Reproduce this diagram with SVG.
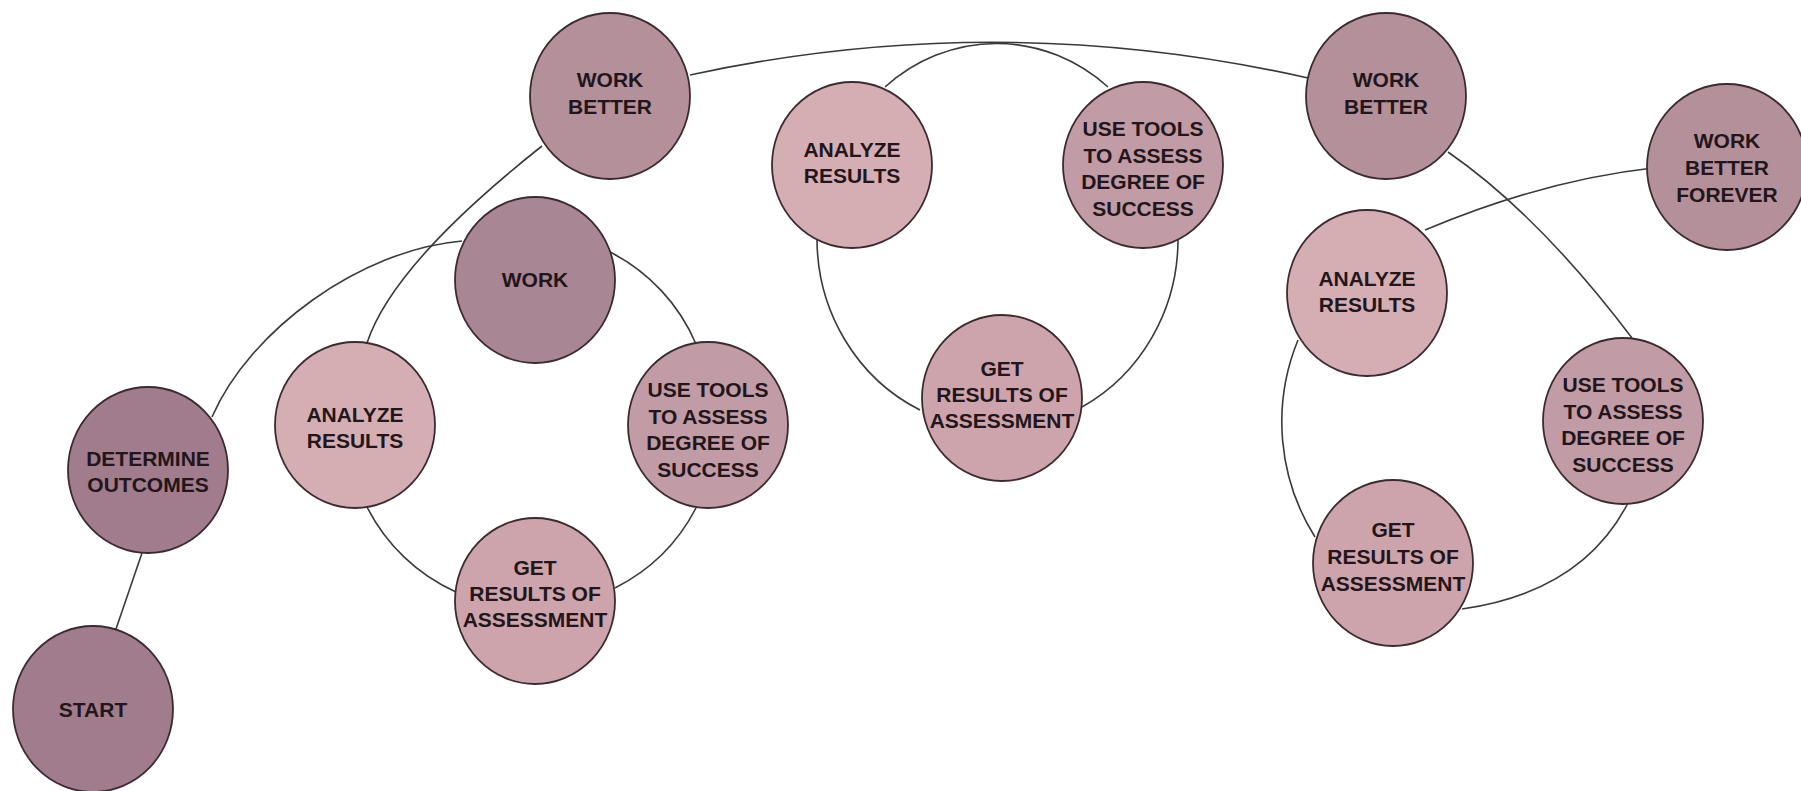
<svg xmlns="http://www.w3.org/2000/svg" width="1801" height="791" viewBox="0 0 1801 791">
<style>
.bg{fill:#ffffff}
.n{stroke:#3b2b31;stroke-width:1.8}
.d{fill:#a07c8c}
.w{fill:#a98694}
.b{fill:#b4909b}
.u{fill:#c19ba5}
.a{fill:#d5aeb4}
.g{fill:#cda4ac}
.c{fill:none;stroke:#3a3a3a;stroke-width:1.6}
text{font-family:"Liberation Sans",Arial,Helvetica,sans-serif;font-weight:bold;font-size:21px;fill:#22161a;text-anchor:middle}
</style>
<rect class="bg" x="0" y="0" width="1801" height="791"/>
<g id="connectors">
<path class="c" d="M116,629 L142,553"/>
<path class="c" d="M212,417 C250,330 360,250 462,241"/>
<path class="c" d="M610,252 A184,184 0 0 1 696,344"/>
<path class="c" d="M696,508 A184,184 0 0 1 615,588"/>
<path class="c" d="M456,592 A184,184 0 0 1 367,507"/>
<path class="c" d="M367,343 Q393,264 542,146"/>
<path class="c" d="M690,75 Q999,8 1308,78"/>
<path class="c" d="M885,87 A175,190 0 0 1 1108,87"/>
<path class="c" d="M817,240 A181,190 0 0 0 920,410"/>
<path class="c" d="M1178,240 A181,190 0 0 1 1082,407"/>
<path class="c" d="M1448,152 Q1539,215 1632,338"/>
<path class="c" d="M1653,168 Q1544,180 1425,230"/>
<path class="c" d="M1298,340 A216,216 0 0 0 1315,537"/>
<path class="c" d="M1628,503 Q1582,592 1462,609"/>
</g>
<g id="start"><ellipse class="n d" cx="93" cy="709" rx="80" ry="83"/><text x="93" y="717">START</text></g>
<g id="determine-outcomes"><ellipse class="n d" cx="148" cy="470" rx="80" ry="83"/><text x="148" y="466">DETERMINE</text><text x="148" y="492">OUTCOMES</text></g>
<g id="work"><ellipse class="n w" cx="535" cy="280" rx="80" ry="83"/><text x="535" y="287">WORK</text></g>
<g id="analyze-results-1"><ellipse class="n a" cx="355" cy="425" rx="80" ry="83"/><text x="355" y="422">ANALYZE</text><text x="355" y="448">RESULTS</text></g>
<g id="use-tools-1"><ellipse class="n u" cx="708" cy="425" rx="80" ry="83"/><text x="708" y="397">USE TOOLS</text><text x="708" y="423.5">TO ASSESS</text><text x="708" y="450">DEGREE OF</text><text x="708" y="476.5">SUCCESS</text></g>
<g id="get-results-1"><ellipse class="n g" cx="535" cy="601" rx="80" ry="83"/><text x="535" y="575">GET</text><text x="535" y="601">RESULTS OF</text><text x="535" y="627">ASSESSMENT</text></g>
<g id="work-better-1"><ellipse class="n b" cx="610" cy="96" rx="80" ry="83"/><text x="610" y="87">WORK</text><text x="610" y="114">BETTER</text></g>
<g id="analyze-results-2"><ellipse class="n a" cx="852" cy="165" rx="80" ry="83"/><text x="852" y="157">ANALYZE</text><text x="852" y="183">RESULTS</text></g>
<g id="use-tools-2"><ellipse class="n u" cx="1143" cy="165" rx="80" ry="83"/><text x="1143" y="136">USE TOOLS</text><text x="1143" y="162.5">TO ASSESS</text><text x="1143" y="189">DEGREE OF</text><text x="1143" y="215.5">SUCCESS</text></g>
<g id="get-results-2"><ellipse class="n g" cx="1002" cy="398" rx="80" ry="83"/><text x="1002" y="376">GET</text><text x="1002" y="402">RESULTS OF</text><text x="1002" y="428">ASSESSMENT</text></g>
<g id="work-better-2"><ellipse class="n b" cx="1386" cy="96" rx="80" ry="83"/><text x="1386" y="87">WORK</text><text x="1386" y="114">BETTER</text></g>
<g id="work-better-forever"><ellipse class="n b" cx="1727" cy="167" rx="80" ry="83"/><text x="1727" y="148">WORK</text><text x="1727" y="175">BETTER</text><text x="1727" y="202">FOREVER</text></g>
<g id="analyze-results-3"><ellipse class="n a" cx="1367" cy="293" rx="80" ry="83"/><text x="1367" y="286">ANALYZE</text><text x="1367" y="312">RESULTS</text></g>
<g id="use-tools-3"><ellipse class="n u" cx="1623" cy="421" rx="80" ry="83"/><text x="1623" y="392">USE TOOLS</text><text x="1623" y="418.5">TO ASSESS</text><text x="1623" y="445">DEGREE OF</text><text x="1623" y="471.5">SUCCESS</text></g>
<g id="get-results-3"><ellipse class="n g" cx="1393" cy="563" rx="80" ry="83"/><text x="1393" y="537">GET</text><text x="1393" y="564">RESULTS OF</text><text x="1393" y="591">ASSESSMENT</text></g>
</svg>
